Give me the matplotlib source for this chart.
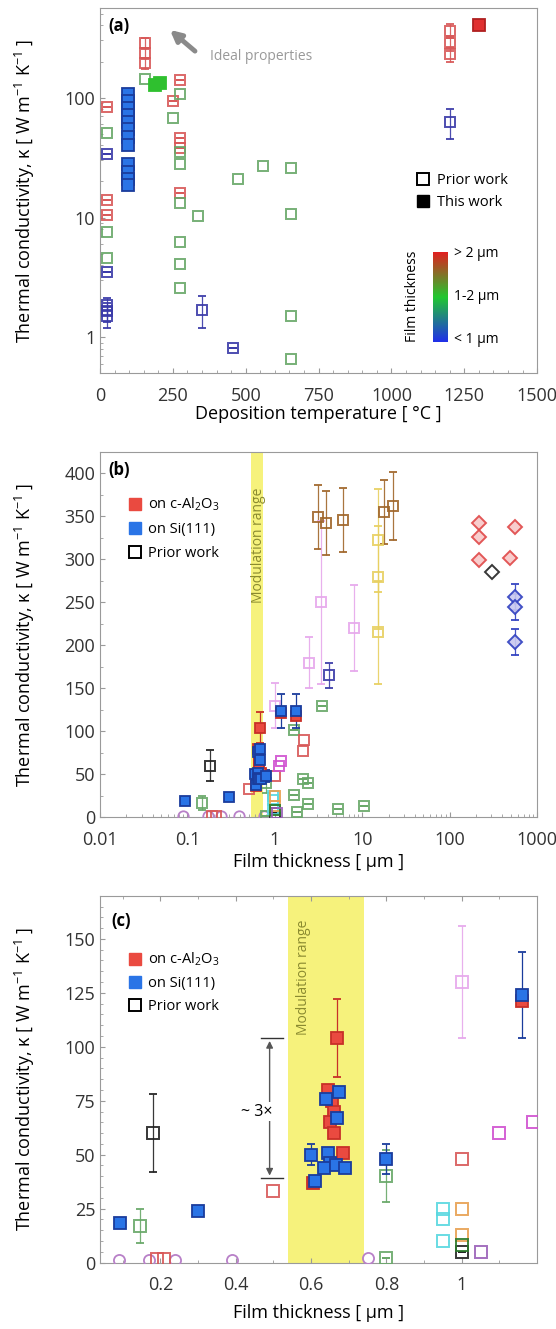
import matplotlib.pyplot as plt
import matplotlib.ticker as mticker
from matplotlib.lines import Line2D
from matplotlib.colors import LinearSegmentedColormap
import numpy as np

plt.rcParams['font.family'] = ['Open Sans', 'DejaVu Sans']
plt.rcParams['font.size'] = 13
plt.rcParams['mathtext.fontset'] = 'custom'
plt.rcParams['mathtext.rm'] = 'Open Sans'
plt.rcParams['mathtext.it'] = 'Open Sans'
plt.rcParams['axes.edgecolor'] = '#9a9a9a'
plt.rcParams['xtick.color'] = '#9a9a9a'
plt.rcParams['ytick.color'] = '#9a9a9a'
plt.rcParams['xtick.labelcolor'] = '#333333'
plt.rcParams['ytick.labelcolor'] = '#333333'
plt.rcParams['xtick.direction'] = 'in'
plt.rcParams['ytick.direction'] = 'in'
plt.rcParams['xtick.major.pad'] = 10
plt.rcParams['xtick.minor.pad'] = 10

# ---------------- (a) kappa vs deposition temperature ----------------
a_red_T = [25, 25, 25, 155, 155, 155, 250, 275, 275, 275, 275, 1200, 1200, 1200]
a_red_k = [83, 14, 10.5, 287, 237, 195, 94, 141, 46, 38, 16, 362, 287, 232]
a_red_e = [0, 0, 0, 30, 25, 20, 0, 0, 0, 0, 0, 50, 40, 35]
a_grn_T = [25, 25, 25, 155, 250, 275, 275, 275, 275, 275, 275, 275, 335, 475, 560, 655, 655, 655, 655]
a_grn_k = [51, 7.6, 4.6, 144, 68, 108, 35, 28, 13.3, 6.2, 4.1, 2.6, 10.3, 21, 27, 26, 10.8, 1.5, 0.66]
a_blu_T = [25, 25, 25, 25, 25, 350, 455, 1200]
a_blu_k = [34, 3.5, 1.85, 1.65, 1.5, 1.7, 0.81, 63]
a_blu_e = [0, 0, 0.3, 0.3, 0.3, 0.5, 0, 18]
# this work
a_tw_blu_T = [95] * 12
a_tw_blu_k = [108, 94, 82, 72, 63, 55, 47, 40, 28, 24, 21, 18.5]
a_tw_grn_T = [190, 205]
a_tw_grn_k = [128, 132]
a_tw_red_T = [1300]
a_tw_red_k = [400]

# ---------------- (b), (c) kappa vs film thickness ----------------
# prior work (open squares): thickness [um], kappa, error
blk_t = [0.18, 1.0]
blk_k = [60, 5]
blk_e = [18, 0]
brn_t = [3.1, 3.85, 6.0, 17.9, 22.7]
brn_k = [349, 342, 346, 355, 362]
brn_e = [37, 37, 37, 37, 40]
yel_t = [15.2, 15.2, 15.2]
yel_k = [322, 279, 215]
yel_e = [60, 60, 60]
lil_t = [1.0, 2.45, 3.4, 8.1]
lil_k = [130, 180, 250, 220]
lil_e = [26, 30, 95, 50]
dbl_t = [4.2]
dbl_k = [165]
dbl_e = [15]
grn_t = [0.145, 0.8, 0.8, 1.66, 3.5, 2.1, 2.4, 1.66, 2.4, 1.8, 5.3, 10.5]
grn_k = [17, 40, 2, 101, 130, 45, 40, 26, 16, 6, 10, 13]
grn_e = [8, 12, 0, 0, 0, 0, 0, 0, 0, 0, 0, 0]
red_t = [0.5, 1.0, 2.1, 2.16, 0.19, 0.21]
red_k = [33, 48, 77, 90, 1.5, 1.5]
mag_t = [1.10, 1.19]
mag_k = [60, 65]
cyn_t = [0.95, 0.95, 0.95]
cyn_k = [25, 20, 10]
org_t = [1.0, 1.0]
org_k = [25, 13]
dgr_t = [1.0]
dgr_k = [8]
vio_t = [1.05]
vio_k = [4.7]
circ_t = [0.09, 0.17, 0.24, 0.39, 0.75]
circ_k = [1, 1, 1, 1, 2]
# bulk (diamonds)
dia_red_t = [214, 214, 214, 560, 490]
dia_red_k = [342, 326, 299, 338, 302]
dia_blk_t = [302]
dia_blk_k = [285]
dia_blu_t = [560, 560, 560]
dia_blu_k = [256, 245, 204]
dia_blu_e = [15, 15, 15]
# this work
tw_red_t = [0.67, 0.645, 0.655, 0.66, 0.65, 0.66, 0.685, 0.605, 1.16, 1.74]
tw_red_k = [104, 80, 75, 70, 65, 60, 51, 37, 121, 118]
tw_red_e = [18, 0, 0, 0, 0, 0, 0, 0, 0, 0]
tw_blu_t = [0.093, 0.30, 0.64, 0.675, 0.67, 0.60, 0.61, 0.645, 0.65, 0.635, 0.665, 0.69, 0.80, 1.16, 1.74]
tw_blu_k = [18.5, 24, 76, 79, 67, 50, 38, 51, 46, 44, 45, 44, 48, 124, 124]
tw_blu_e = [0, 0, 0, 0, 0, 5, 0, 0, 0, 0, 0, 0, 7, 20, 20]

mod_range = (0.54, 0.74)

C_RED = '#d85858'
C_GRN = '#68a868'
C_BLU = '#3a3aa8'
TW_RED = '#ea4a40'
TW_BLU = '#2a74e6'
TW_BLU_E = '#1a3c9c'
TW_GRN = '#2fc02f'


def open_pts(ax, t, k, color, e=None, marker='s', ms=7.5, fc='none'):
	ax.errorbar(t, k, yerr=e, fmt=marker, ms=ms, mfc=fc, mec=color, mew=1.4,
		ecolor=color, elinewidth=0.9, capsize=3, alpha=0.9, zorder=3)


def filled_pts(ax, t, k, fc, ec, e=None, ms=7.5):
	ax.errorbar(t, k, yerr=e, fmt='s', ms=ms, mfc=fc, mec=ec, mew=1.3,
		ecolor=ec, elinewidth=0.9, capsize=3, zorder=4)


fig = plt.figure(figsize=(5.56, 13.29), dpi=100)
ylab = 'Thermal conductivity, κ [ W m$^{-1}$ K$^{-1}$ ]'

# ---------------- panel (a) ----------------
ax1 = fig.add_axes([0.180, 0.719, 0.786, 0.275])
open_pts(ax1, a_red_T, a_red_k, C_RED, a_red_e)
open_pts(ax1, a_grn_T, a_grn_k, C_GRN)
open_pts(ax1, a_blu_T, a_blu_k, C_BLU, a_blu_e)
filled_pts(ax1, a_tw_blu_T, a_tw_blu_k, TW_BLU, TW_BLU_E, ms=8.5)
filled_pts(ax1, a_tw_grn_T, a_tw_grn_k, TW_GRN, TW_GRN, ms=8.5)
filled_pts(ax1, a_tw_red_T, a_tw_red_k, '#e03030', '#b02020', ms=8.5)
ax1.set_yscale('log')
ax1.set_xlim(0, 1500)
ax1.set_ylim(0.5, 560)
ax1.xaxis.set_major_locator(mticker.MultipleLocator(250))
ax1.xaxis.set_minor_locator(mticker.MultipleLocator(50))
ax1.yaxis.set_major_formatter(mticker.FuncFormatter(lambda v, p: '%g' % v))
ax1.set_xlabel('Deposition temperature [ °C ]', labelpad=0)
ax1.set_ylabel(ylab)
ax1.yaxis.set_label_coords(-0.145, 0.5)
ax1.text(0.02, 0.975, '(a)', transform=ax1.transAxes, fontsize=12, weight='bold', va='top')
ax1.annotate('', xy=(0.155, 0.945), xytext=(0.222, 0.877), xycoords='axes fraction',
	arrowprops=dict(arrowstyle='-|>', lw=3.5, color='#8a8a8a', mutation_scale=16))
ax1.text(0.252, 0.868, 'Ideal properties', transform=ax1.transAxes, fontsize=10,
	color='#999999', va='center')
hnd = [Line2D([], [], marker='s', ls='', mfc='none', mec='k', mew=1.4, ms=8, label='Prior work'),
	Line2D([], [], marker='s', ls='', mfc='k', mec='k', ms=8, label='This work')]
ax1.legend(handles=hnd, loc='upper left', bbox_to_anchor=(0.69, 0.585), frameon=False,
	fontsize=10.5, handletextpad=0.3, labelspacing=0.5, handlelength=1.2)
# thickness colour scale
cax = ax1.inset_axes([0.762, 0.087, 0.034, 0.246])
cmap = LinearSegmentedColormap.from_list('thk', ['#2030e8', '#22c830', '#e02020'])
cax.imshow(np.linspace(0, 1, 100).reshape(-1, 1), cmap=cmap, aspect='auto', origin='lower')
cax.set_xticks([])
cax.set_yticks([])
for s in cax.spines.values():
	s.set_visible(False)
ax1.text(0.81, 0.328, '> 2 µm', transform=ax1.transAxes, fontsize=10, va='center')
ax1.text(0.81, 0.21, '1-2 µm', transform=ax1.transAxes, fontsize=10, va='center')
ax1.text(0.81, 0.093, '< 1 µm', transform=ax1.transAxes, fontsize=10, va='center')
ax1.text(0.715, 0.21, 'Film thickness', transform=ax1.transAxes, fontsize=10,
	rotation=90, va='center', ha='center')


def thickness_panel(ax, ms):
	ax.axvspan(mod_range[0], mod_range[1], color='#f6f27c', zorder=0, lw=0)
	ax.plot(circ_t, circ_k, 'o', ms=ms, mfc='none', mec='#b880c8', mew=1.3, zorder=3)
	open_pts(ax, blk_t, blk_k, '#222222', blk_e, ms=ms)
	open_pts(ax, brn_t, brn_k, '#a0662a', brn_e, ms=ms)
	open_pts(ax, yel_t, yel_k, '#e8d060', yel_e, ms=ms)
	open_pts(ax, lil_t, lil_k, '#e6a8ec', lil_e, ms=ms)
	open_pts(ax, dbl_t, dbl_k, C_BLU, dbl_e, ms=ms)
	open_pts(ax, grn_t, grn_k, C_GRN, grn_e, ms=ms)
	open_pts(ax, red_t, red_k, C_RED, ms=ms)
	open_pts(ax, mag_t, mag_k, '#d050d0', ms=ms)
	open_pts(ax, cyn_t, cyn_k, '#58d8e0', ms=ms)
	open_pts(ax, org_t, org_k, '#e8a050', ms=ms)
	open_pts(ax, dgr_t, dgr_k, '#2a7a2a', ms=ms)
	open_pts(ax, vio_t, vio_k, '#9a60b8', ms=ms)
	open_pts(ax, dia_red_t, dia_red_k, '#e04848', marker='D', ms=ms - 0.5, fc='#f8c8c8')
	open_pts(ax, dia_blk_t, dia_blk_k, '#222222', marker='D', ms=ms - 0.5)
	open_pts(ax, dia_blu_t, dia_blu_k, '#3040c0', dia_blu_e, marker='D', ms=ms - 0.5, fc='#c8c8f0')
	filled_pts(ax, tw_red_t, tw_red_k, TW_RED, '#c83028', tw_red_e, ms=ms)
	filled_pts(ax, tw_blu_t, tw_blu_k, TW_BLU, TW_BLU_E, tw_blu_e, ms=ms)
	ax.set_ylabel(ylab)
	ax.yaxis.set_label_coords(-0.145, 0.5)
	hnd = [Line2D([], [], marker='s', ls='', mfc=TW_RED, mec=TW_RED, ms=8, label='on c-Al$_2$O$_3$'),
		Line2D([], [], marker='s', ls='', mfc=TW_BLU, mec=TW_BLU, ms=8, label='on Si(111)'),
		Line2D([], [], marker='s', ls='', mfc='none', mec='k', mew=1.4, ms=8, label='Prior work')]
	return hnd


# ---------------- panel (b) ----------------
ax2 = fig.add_axes([0.180, 0.385, 0.786, 0.275])
hnd = thickness_panel(ax2, 7.5)
ax2.set_xscale('log')
ax2.set_xlim(0.01, 1000)
ax2.set_ylim(0, 425)
ax2.xaxis.set_major_formatter(mticker.FuncFormatter(lambda v, p: '%g' % v))
ax2.yaxis.set_major_locator(mticker.MultipleLocator(50))
ax2.yaxis.set_minor_locator(mticker.MultipleLocator(25))
ax2.set_xlabel('Film thickness [ µm ]', labelpad=3)
ax2.text(0.65, 316, 'Modulation range', rotation=90, fontsize=10, color='#8a8a30',
	ha='center', va='center')
ax2.text(0.02, 0.975, '(b)', transform=ax2.transAxes, fontsize=12, weight='bold', va='top')
ax2.legend(handles=hnd, loc='upper left', bbox_to_anchor=(0.03, 0.915), frameon=False,
	fontsize=10.5, handletextpad=0.3, labelspacing=0.6, handlelength=1.2)

# ---------------- panel (c) ----------------
ax3 = fig.add_axes([0.180, 0.050, 0.786, 0.276])
hnd = thickness_panel(ax3, 8)
ax3.set_xlim(0.04, 1.2)
ax3.set_ylim(0, 170)
ax3.xaxis.set_major_locator(mticker.FixedLocator([0.2, 0.4, 0.6, 0.8, 1.0]))
ax3.xaxis.set_minor_locator(mticker.MultipleLocator(0.1))
ax3.xaxis.set_major_formatter(mticker.FuncFormatter(lambda v, p: '%g' % v))
ax3.yaxis.set_major_locator(mticker.MultipleLocator(25))
ax3.yaxis.set_minor_locator(mticker.MultipleLocator(5))
ax3.tick_params(axis='x', which='both', top=True)
ax3.set_xlabel('Film thickness [ µm ]', labelpad=7)
ax3.text(0.579, 132, 'Modulation range', rotation=90, fontsize=10, color='#8a8a30',
	ha='center', va='center')
ax3.text(0.025, 0.955, '(c)', transform=ax3.transAxes, fontsize=12, weight='bold', va='top')
ax3.legend(handles=hnd, loc='upper left', bbox_to_anchor=(0.03, 0.885), frameon=False,
	fontsize=10.5, handletextpad=0.3, labelspacing=0.55, handlelength=1.2)
# ~3x arrow between the lowest and highest film in the modulation range
ax3.annotate('', xy=(0.49, 104), xytext=(0.49, 39),
	arrowprops=dict(arrowstyle='<|-|>', lw=1.0, color='#555555', mutation_scale=10))
ax3.plot([0.468, 0.525], [104, 104], color='#333333', lw=1)
ax3.plot([0.468, 0.525], [39, 39], color='#333333', lw=1)
ax3.text(0.455, 70, '~ 3×', fontsize=11.5, ha='center', va='center',
	bbox=dict(fc='white', ec='none', pad=1))

fig.savefig('out.png', dpi=100)
